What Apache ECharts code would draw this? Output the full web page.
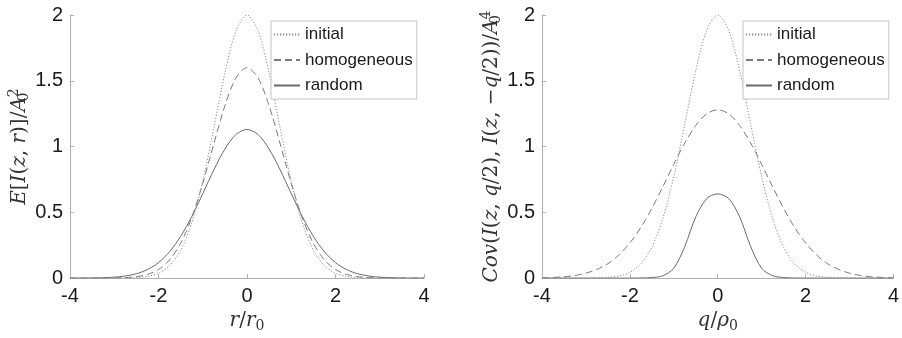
<!DOCTYPE html>
<html>
<head>
<meta charset="utf-8">
<script src="https://cdn.jsdelivr.net/npm/echarts@6/dist/echarts.min.js"></script>
<style>
  html, body { margin: 0; padding: 0; background: #fff; }
  #chart { width: 902px; height: 338px; }
</style>
</head>
<body>
<div id="chart"></div>
<script>
// positions r/r0 and q/rho0
const xValues = [-4, -3.75, -3.5, -3.25, -3, -2.75, -2.5, -2.25, -2, -1.75, -1.5, -1.25, -1, -0.75, -0.5, -0.25,
  0, 0.25, 0.5, 0.75, 1, 1.25, 1.5, 1.75, 2, 2.25, 2.5, 2.75, 3, 3.25, 3.5, 3.75, 4];

// left panel: mean intensity
const meanInitial = [0, 0, 0, 0, 0, 0.001, 0.004, 0.013, 0.037, 0.094, 0.211, 0.419, 0.736, 1.140, 1.558, 1.879,
  2, 1.879, 1.558, 1.140, 0.736, 0.419, 0.211, 0.094, 0.037, 0.013, 0.004, 0.001, 0, 0, 0, 0, 0];
const meanHomogeneous = [0, 0, 0, 0, 0.001, 0.004, 0.011, 0.028, 0.065, 0.138, 0.264, 0.458, 0.719, 1.020, 1.310, 1.522,
  1.6, 1.522, 1.310, 1.020, 0.719, 0.458, 0.264, 0.138, 0.065, 0.028, 0.011, 0.004, 0.001, 0, 0, 0, 0];
const meanRandom = [0, 0, 0.001, 0.003, 0.007, 0.016, 0.033, 0.065, 0.118, 0.200, 0.317, 0.467, 0.642, 0.822, 0.981, 1.091,
  1.13, 1.091, 0.981, 0.822, 0.642, 0.467, 0.317, 0.200, 0.118, 0.065, 0.033, 0.016, 0.007, 0.003, 0.001, 0, 0];

// right panel: covariance
const covInitial = [0, 0, 0, 0, 0, 0.002, 0.005, 0.016, 0.044, 0.108, 0.235, 0.452, 0.772, 1.170, 1.576, 1.884,
  2, 1.884, 1.576, 1.170, 0.772, 0.452, 0.235, 0.108, 0.044, 0.016, 0.005, 0.002, 0, 0, 0, 0, 0];
const covHomogeneous = [0.002, 0.005, 0.010, 0.020, 0.038, 0.066, 0.110, 0.176, 0.267, 0.385, 0.530, 0.694, 0.865, 1.027, 1.160, 1.249,
  1.28, 1.249, 1.160, 1.027, 0.865, 0.694, 0.530, 0.385, 0.267, 0.176, 0.110, 0.066, 0.038, 0.020, 0.010, 0.005, 0.002];
const covRandom = [0, 0, 0, 0, 0, 0, 0, 0, 0, 0.001, 0.004, 0.018, 0.075, 0.24, 0.465, 0.605,
  0.64, 0.605, 0.465, 0.24, 0.075, 0.018, 0.004, 0.001, 0, 0, 0, 0, 0, 0, 0, 0, 0];

const seriesNames = ['initial', 'homogeneous', 'random'];
const xTicks = [-4, 4, 2];      // min, max, interval
const yTicks = [0, 2, 0.5];

const pairs = ys => ys.map((y, i) => [xValues[i], y]);

const lineStyles = {
  initial: { type: [1.2, 1.8], color: '#8c8c8c', width: 1 },
  homogeneous: { type: [7, 4], color: '#7a7a7a', width: 1 },
  random: { type: 'solid', color: '#6a6a6a', width: 1 }
};

const serif = 'DejaVu Serif';
const rich = {
  i: { fontFamily: serif, fontStyle: 'italic', fontSize: 20, color: '#333', lineHeight: 24 },
  n: { fontFamily: serif, fontSize: 20, color: '#333', lineHeight: 24 },
  sub: { fontFamily: serif, fontSize: 14, color: '#333', verticalAlign: 'bottom', lineHeight: 11, width: 0 },
  sup: { fontFamily: serif, fontSize: 14, color: '#333', verticalAlign: 'top', lineHeight: 13 },
  sub2: { fontFamily: serif, fontSize: 14, color: '#333', verticalAlign: 'bottom', lineHeight: 11 }
};

function makeX(idx, name) {
  return {
    type: 'value', gridIndex: idx, min: xTicks[0], max: xTicks[1], interval: xTicks[2],
    axisLine: { show: true, onZero: false, lineStyle: { color: '#b0b0b0', width: 1 } },
    axisTick: { show: true, inside: true, length: 4, lineStyle: { color: '#b0b0b0' } },
    axisLabel: { fontFamily: 'Liberation Sans', fontSize: 20, color: '#1a1a1a', margin: 8 },
    splitLine: { show: false },
    name: name, nameLocation: 'middle', nameGap: 28,
    nameTextStyle: { rich: rich }
  };
}

function makeY(idx, name, gap) {
  return {
    type: 'value', gridIndex: idx, min: yTicks[0], max: yTicks[1], interval: yTicks[2],
    axisLine: { show: true, onZero: false, lineStyle: { color: '#b0b0b0', width: 1 } },
    axisTick: { show: true, inside: true, length: 4, lineStyle: { color: '#b0b0b0' } },
    axisLabel: { fontFamily: 'Liberation Sans', fontSize: 20, color: '#1a1a1a', margin: 7 },
    splitLine: { show: false },
    name: name, nameLocation: 'middle', nameGap: gap, nameRotate: 90,
    nameTextStyle: { rich: rich }
  };
}

function makeSeries(idx, data) {
  return seriesNames.map((nm, k) => ({
    name: nm, type: 'line', xAxisIndex: idx, yAxisIndex: idx,
    data: pairs(data[k]), symbol: 'none', smooth: 0.3,
    color: lineStyles[nm].color,
    lineStyle: lineStyles[nm], z: 3 - k
  }));
}

function makeLegend(left) {
  return {
    data: seriesNames, orient: 'vertical', left: left, top: 21,
    itemWidth: 26, itemHeight: 14, itemGap: 8.5,
    padding: [5, 4, 5, 2],
    borderColor: '#c4c4c4', borderWidth: 1, backgroundColor: '#fff',
    itemStyle: { opacity: 0 },
    textStyle: { fontFamily: 'Liberation Sans', fontSize: 17, color: '#1a1a1a', lineHeight: 14 },
    selectedMode: false
  };
}

const chart = echarts.init(document.getElementById('chart'));
chart.setOption({
  animation: false,
  grid: [
    { left: 70, right: 478, top: 15, bottom: 59 },
    { left: 542, right: 4, top: 15, bottom: 59 }
  ],
  xAxis: [
    makeX(0, '{i|r}{n|/}{i|r}{sub2|0}'),
    makeX(1, '{i|q}{n|/}{i|ρ}{sub2|0}')
  ],
  yAxis: [
    makeY(0, '{i|E}{n|[}{i|I}{n|(}{i|z}{n|, }{i|r}{n|)]/}{i|A}{sub|0}{sup|2}', 34),
    makeY(1, '{i|Cov}{n|(}{i|I}{n|(}{i|z}{n|, }{i|q}{n|/2), }{i|I}{n|(}{i|z}{n|, −}{i|q}{n|/2))/}{i|A}{sub|0}{sup|4}', 36)
  ],
  legend: [makeLegend(271), makeLegend(743)],
  series: makeSeries(0, [meanInitial, meanHomogeneous, meanRandom])
    .concat(makeSeries(1, [covInitial, covHomogeneous, covRandom]))
});
</script>
</body>
</html>
